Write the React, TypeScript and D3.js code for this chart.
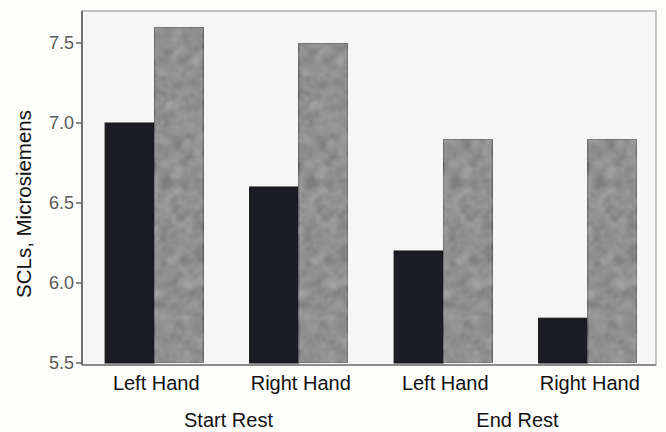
import * as React from 'react';
import { scaleBand, scaleLinear } from 'd3';

// values (SCL, microsiemens)
const groups = ['Start Rest', 'End Rest'];
const hands = ['Left Hand', 'Right Hand'];
const series = ['dark', 'grey'];
const darkValues = [7.0, 6.6, 6.2, 5.78];
const greyValues = [7.6, 7.5, 6.9, 6.9];
const yTicks = [5.5, 6.0, 6.5, 7.0, 7.5];

const W = 666;
const H = 432;
const margin = { top: 11, right: 6, bottom: 69, left: 82 };

export default function App() {
  React.useEffect(() => {
    document.body.style.margin = '0';
  }, []);

  const cats = groups.flatMap(g => hands.map(h => `${g}|${h}`));
  const x0 = scaleBand<string>()
    .domain(cats)
    .range([margin.left, W - margin.right])
    .paddingInner(0.32)
    .paddingOuter(0.16);
  const x1 = scaleBand<string>().domain(series).range([0, x0.bandwidth()]);
  const y = scaleLinear().domain([5.5, 7.5]).range([363, 43]);

  const plotTop = y(7.7);
  const plotBottom = y(5.5) + 2;
  const font = '"Liberation Sans", Arial, Helvetica, sans-serif';

  return (
    <svg width={W} height={H} viewBox={`0 0 ${W} ${H}`}
      style={{ display: 'block', background: '#fdfdfb' }} fontFamily={font}>
      <defs>
        {/* soft mottling like the halftone of the scan */}
        <filter id="grain" x="0" y="0" width="1" height="1">
          <feTurbulence type="fractalNoise" baseFrequency="0.09" numOctaves="2" seed="11" result="n" />
          <feColorMatrix in="n" type="matrix"
            values="0.5 0.5 0 0 -0.25  0.5 0.5 0 0 -0.25  0.5 0.5 0 0 -0.25  0 0 0 0 0.3" result="g" />
          <feComposite in="g" in2="SourceGraphic" operator="in" result="gi" />
          <feMerge>
            <feMergeNode in="SourceGraphic" />
            <feMergeNode in="gi" />
          </feMerge>
        </filter>
      </defs>

      {/* plot frame */}
      <rect x={margin.left} y={plotTop} width={W - margin.right - margin.left - 4}
        height={plotBottom - plotTop} fill="#f5f6f5" stroke="#a0a0a0" strokeWidth={1.2} />

      {/* bars */}
      {cats.map((c, i) => (
        <g key={c} transform={`translate(${x0(c)},0)`}>
          <rect x={x1('dark')} y={y(darkValues[i])} width={x1.bandwidth()}
            height={y(5.5) - y(darkValues[i])} fill="#1c1d24" stroke="#111" strokeWidth={1} />
          <rect x={x1('grey')} y={y(greyValues[i])} width={x1.bandwidth()}
            height={y(5.5) - y(greyValues[i])} fill="#939393" stroke="#555" strokeWidth={1.2}
            filter="url(#grain)" />
        </g>
      ))}

      {/* axes */}
      <line x1={margin.left} x2={margin.left} y1={plotTop} y2={plotBottom} stroke="#555" strokeWidth={1.5} />
      <line x1={margin.left} x2={W - margin.right - 4} y1={plotBottom} y2={plotBottom} stroke="#777" strokeWidth={1.5} />
      {yTicks.map(t => (
        <g key={t} transform={`translate(${margin.left},${y(t)})`}>
          <line x1={-6} x2={0} stroke="#666" strokeWidth={1.5} />
          <text x={-8} dy="0.36em" textAnchor="end" fontSize={18} fill="#5a5a5a">{t.toFixed(1)}</text>
        </g>
      ))}
      <text transform={`translate(31,${(y(5.5) + y(7.5)) / 2 + 1}) rotate(-90)`}
        textAnchor="middle" fontSize={20.5} fill="#111">SCLs, Microsiemens</text>

      {/* x labels */}
      {cats.map(c => (
        <text key={c} x={(x0(c) ?? 0) + x0.bandwidth() / 2 + 2} y={390} textAnchor="middle"
          fontSize={20} fill="#111">{c.split('|')[1]}</text>
      ))}
      {groups.map(g => {
        const a = x0(`${g}|${hands[0]}`) ?? 0;
        const b = x0(`${g}|${hands[hands.length - 1]}`) ?? 0;
        return (
          <text key={g} x={(a + b + x0.bandwidth()) / 2 + 2} y={427} textAnchor="middle"
            fontSize={20} fill="#111">{g}</text>
        );
      })}
    </svg>
  );
}
